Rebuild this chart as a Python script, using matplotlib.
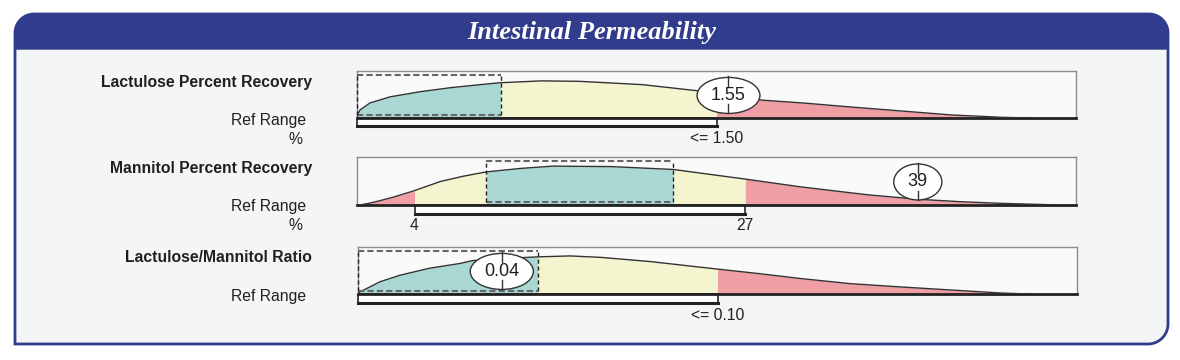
import matplotlib.pyplot as plt
import numpy as np
from matplotlib.patches import Rectangle, Ellipse, Polygon

plt.rcParams['font.family'] = ['Liberation Sans', 'DejaVu Sans']

# ---- data ----
titles = ["Lactulose Percent Recovery", "Mannitol Percent Recovery", "Lactulose/Mannitol Ratio"]
units = ["%", "%", ""]
results = [1.55, 39, 0.04]
result_labels = ["1.55", "39", "0.04"]
ref_low = [0, 4, 0]
ref_high = [1.50, 27, 0.10]
ref_texts = [[(1.50, "<= 1.50")], [(4, "4"), (27, "27")], [(0.10, "<= 0.10")]]
opt_low = [0, 9, 0]
opt_high = [0.60, 22, 0.05]
scale_max = [3.0, 50, 0.20]

# distribution curve, x in result units, height as fraction of the box
lac_x = [0, 0.004, 0.0126, 0.054, 0.138, 0.264, 0.39, 0.515, 0.595, 0.77, 0.93, 1.19,
         1.42, 1.50, 1.69, 1.86, 2.07, 2.27, 2.48, 2.69, 2.82]
lac_h = [0, 0.09, 0.17, 0.32, 0.45, 0.56, 0.645, 0.71, 0.75, 0.79, 0.78, 0.71,
         0.58, 0.54, 0.38, 0.32, 0.23, 0.15, 0.065, 0.015, 0]
man_x = [0.2, 0.9, 1.6, 2.6, 4.0, 5.8, 7.4, 9.0, 11.3, 13.6, 17.7, 22.0,
         27.0, 30.8, 33.6, 35.6, 39.0, 41.9, 44.7, 47.5, 48.9]
man_h = [0, 0.04, 0.09, 0.17, 0.30, 0.49, 0.60, 0.69, 0.76, 0.81, 0.80, 0.74,
         0.54, 0.38, 0.28, 0.21, 0.12, 0.07, 0.035, 0.012, 0]
rat_x = [0, 0.0006, 0.002, 0.0061, 0.0117, 0.020, 0.0284, 0.0318, 0.0396, 0.05, 0.059,
         0.0674, 0.0813, 0.10, 0.112, 0.123, 0.137, 0.151, 0.165, 0.179, 0.187]
rat_h = [0, 0.05, 0.10, 0.26, 0.40, 0.55, 0.65, 0.71, 0.75, 0.79, 0.81,
         0.78, 0.69, 0.53, 0.43, 0.33, 0.22, 0.15, 0.085, 0.02, 0]
curves_x = [lac_x, man_x, rat_x]
curves_h = [lac_h, man_h, rat_h]

# ---- layout / style ----
W, H = 1180, 360
box_left = [357, 357, 358]
box_right = [1076, 1076, 1077]
box_top = [71, 157, 247]
box_bottom = [118, 205, 294]
title_y = [82, 168, 257]
refrange_y = [120, 206, 296]
unit_y = [139, 225, 0]

NAVY = "#323C8C"
BODY = "#F4F5F7"
TEAL = "#A9D8D4"
YELLOW = "#F4F4CE"
RED = "#EF9EA6"
INK = "#231F20"


def corner_path(x0, y0, x1, y1, radii, n=20):
    # outline with per-corner radius (tl, tr, br, bl), y grows downward
    tl, tr, br, bl = radii
    pts = []
    specs = [((x0 + tl, y0 + tl), tl, 180, 270),
             ((x1 - tr, y0 + tr), tr, 270, 360),
             ((x1 - br, y1 - br), br, 0, 90),
             ((x0 + bl, y1 - bl), bl, 90, 180)]
    for (cx, cy), r, a0, a1 in specs:
        t = np.radians(np.linspace(a0, a1, n))
        pts += list(zip(cx + r * np.cos(t), cy + r * np.sin(t)))
    return pts


fig = plt.figure(figsize=(W / 100, H / 100), dpi=100)
fig.patch.set_facecolor("white")
bg = fig.add_axes([0, 0, 1, 1])
bg.set_xlim(0, W)
bg.set_ylim(H, 0)
bg.axis("off")

bg.add_patch(Polygon(corner_path(15, 14, 1168, 344, (19, 19, 20, 0)), closed=True,
                     fc=BODY, ec=NAVY, lw=2))
bg.add_patch(Polygon(corner_path(15, 14, 1168, 49, (19, 19, 0, 0)), closed=True,
                     fc=NAVY, ec=NAVY, lw=1))
bg.text(592, 32.5, "Intestinal Permeability", family=["Liberation Serif", "DejaVu Serif"],
        weight="bold", style="italic", color="white", fontsize=19, ha="center", va="center")

renderer = fig.canvas.get_renderer()

for i in range(3):
    # labels on the left
    bg.text(312, title_y[i], titles[i], weight="bold", fontsize=11.3, color=INK,
            ha="right", va="center")
    bg.text(306, refrange_y[i], "Ref Range", fontsize=11.3, color=INK, ha="right", va="center")
    if units[i]:
        bg.text(302, unit_y[i], units[i], fontsize=11.3, color=INK, ha="right", va="center")

    ax = fig.add_axes([box_left[i] / W, 1 - box_bottom[i] / H,
                       (box_right[i] - box_left[i]) / W, (box_bottom[i] - box_top[i]) / H])
    ax.set_xlim(0, scale_max[i])
    ax.set_ylim(0, 1)
    ax.set_facecolor("#FAFAFA")
    ax.set_xticks([])
    ax.set_yticks([])
    for s in ["top", "left", "right"]:
        ax.spines[s].set_color("#8C8C8C")
        ax.spines[s].set_linewidth(1)
    ax.spines["bottom"].set_color("#222222")
    ax.spines["bottom"].set_linewidth(2)
    tr = ax.get_xaxis_transform()

    x = np.array(curves_x[i], dtype=float)
    h = np.array(curves_h[i], dtype=float)
    if ref_low[i] > 0:
        zones = [(x[0], ref_low[i], RED), (ref_low[i], opt_low[i], YELLOW),
                 (opt_low[i], opt_high[i], TEAL), (opt_high[i], ref_high[i], YELLOW),
                 (ref_high[i], x[-1], RED)]
    else:
        zones = [(x[0], opt_high[i], TEAL), (opt_high[i], ref_high[i], YELLOW),
                 (ref_high[i], x[-1], RED)]
    for a, b, color in zones:
        xs = np.concatenate([[a], x[(x > a) & (x < b)], [b]])
        hs = np.interp(xs, x, h)
        ax.fill_between(xs, 0, hs, color=color, lw=0, zorder=1)
    ax.plot(x, h, color="#333333", lw=1, zorder=3)

    # optimal range, dashed
    lo, hi = opt_low[i], opt_high[i]
    for yy in (0.07, 0.92):
        ax.plot([lo, hi], [yy, yy], color="#666666", lw=1.5, ls=(0, (3, 1.5)),
                zorder=4, clip_on=False)
    for xx in (lo, hi):
        ax.plot([xx, xx], [0.07, 0.92], color="#222222", lw=1, ls=(0, (3, 2)),
                zorder=4, clip_on=False)

    # reference range bracket
    axh = ax.get_window_extent(renderer).height
    axw = ax.get_window_extent(renderer).width
    bh = 8.5 / axh
    ax.add_patch(Rectangle((ref_low[i], -bh), ref_high[i] - ref_low[i], bh, transform=tr,
                           fc="white", ec="#222222", lw=1.2, clip_on=False, zorder=2))
    ax.plot([ref_low[i], ref_high[i]], [-bh, -bh], transform=tr, color="#222222", lw=2.2,
            clip_on=False, zorder=2)
    for val, txt in ref_texts[i]:
        ax.text(val, -21 / axh, txt, transform=tr, ha="center", va="center",
                fontsize=11.3, color=INK)

    # result marker
    cy = 0.48
    t = ax.text(results[i], cy, result_labels[i], transform=tr, ha="center", va="center",
                fontsize=13, color=INK, zorder=6)
    tw = t.get_window_extent(renderer).width
    ew = (tw + 28) * scale_max[i] / axw
    eh = 36 / axh
    ax.add_patch(Ellipse((results[i], cy), ew, eh, transform=tr, fc="white", ec="#333333",
                         lw=1, zorder=5, clip_on=False))
    tick = 9 / axh
    ax.plot([results[i]] * 2, [cy + eh / 2 + 1 / axh, cy + eh / 2 - tick], transform=tr,
            color="#333333", lw=1, zorder=6, clip_on=False)
    ax.plot([results[i]] * 2, [cy - eh / 2, cy - eh / 2 + tick], transform=tr,
            color="#333333", lw=1, zorder=6, clip_on=False)

fig.savefig("out.png", dpi=100, facecolor="white")
